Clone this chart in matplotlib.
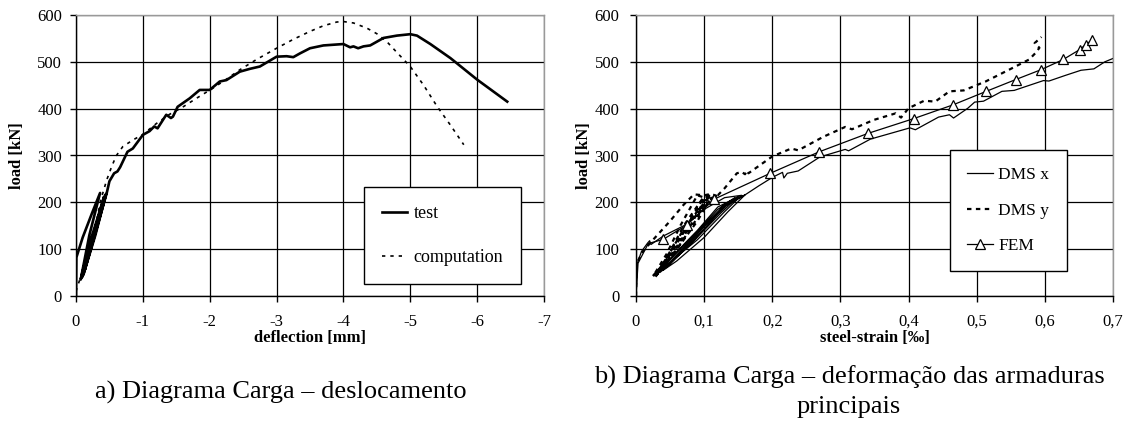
import matplotlib.pyplot as plt
from matplotlib.lines import Line2D

plt.rcParams['font.family'] = ['Liberation Serif', 'DejaVu Serif']

# --- a) load - deflection ---
test_defl = [0, -0.005, -0.1, -0.24, -0.36,
             -0.2, -0.07, -0.2, -0.42, -0.25, -0.09, -0.22, -0.44,
             -0.27, -0.11, -0.24, -0.45, -0.29, -0.13, -0.26, -0.46,
             -0.5, -0.57, -0.62, -0.66, -0.77, -0.85, -1.0, -1.1, -1.17, -1.22,
             -1.35, -1.42, -1.45, -1.52, -1.6, -1.7, -1.85, -2.0, -2.15, -2.25,
             -2.45, -2.6, -2.75, -3.0, -3.15, -3.25, -3.35, -3.5, -3.7, -4.0,
             -4.1, -4.15, -4.22, -4.3, -4.4, -4.5, -4.6, -4.8, -5.0, -5.1,
             -5.3, -5.6, -6.0, -6.45]
test_load = [0, 82, 125, 177, 220,
             130, 35, 110, 212, 125, 40, 115, 215,
             128, 45, 118, 218, 130, 55, 120, 220,
             245, 262, 266, 275, 308, 315, 344, 352, 362, 358,
             387, 380, 383, 404, 412, 422, 440, 440, 458, 461,
             479, 485, 490, 511, 512, 510, 518, 529, 535, 538,
             531, 533, 529, 533, 535, 543, 551, 556, 559, 556,
             538, 508, 462, 415]

comp_defl = [0, -0.02, -0.12, -0.22, -0.3, -0.37, -0.46, -0.53, -0.6, -0.7,
             -0.85, -1.0, -1.2, -1.4, -1.57, -1.8, -2.05, -2.25, -2.45, -2.7,
             -3.0, -3.25, -3.5, -3.7, -3.9, -4.0, -4.15, -4.35, -4.5, -4.65,
             -4.8, -5.0, -5.2, -5.4, -5.6, -5.8]
comp_load = [10, 20, 60, 105, 155, 205, 248, 275, 299, 319,
             333, 345, 368, 388, 401, 422, 444, 463, 483, 505,
             529, 548, 565, 577, 585, 586, 583, 572, 560, 543,
             520, 490, 450, 405, 365, 323]

# --- b) load - steel strain ---
dmsx_strain = [0, 0.001, 0.002, 0.008, 0.017, 0.02, 0.022, 0.04, 0.07, 0.1, 0.13, 0.155,
               0.13, 0.09, 0.05, 0.025, 0.05, 0.09, 0.12, 0.15,
               0.125, 0.085, 0.05, 0.03, 0.055, 0.095, 0.12, 0.145,
               0.12, 0.08, 0.05, 0.035, 0.06, 0.1, 0.13, 0.16,
               0.135, 0.1, 0.06, 0.04, 0.065, 0.1, 0.13, 0.158,
               0.18, 0.201, 0.215, 0.217, 0.222, 0.238, 0.27, 0.307, 0.312,
               0.344, 0.402, 0.41, 0.444, 0.46, 0.466, 0.487, 0.497, 0.51, 0.537,
               0.555, 0.598, 0.606, 0.63, 0.653, 0.672, 0.688, 0.708]
dmsx_load = [0, 40, 70, 95, 113, 118, 110, 128, 150, 185, 210, 215,
             180, 120, 72, 45, 80, 140, 190, 212,
             178, 118, 70, 48, 85, 145, 185, 210,
             175, 112, 68, 50, 88, 150, 195, 216,
             180, 125, 75, 55, 92, 148, 192, 214,
             235, 254, 264, 252, 262, 267, 297, 313, 310,
             335, 359, 355, 382, 387, 380, 401, 414, 416, 437,
             439, 460, 459, 471, 482, 485, 500, 512]

dmsy_strain = [0, 0.001, 0.01, 0.025, 0.05, 0.07, 0.085, 0.1, 0.11, 0.12,
               0.1, 0.08, 0.055, 0.025, 0.045, 0.065, 0.09,
               0.105, 0.085, 0.06, 0.03, 0.05, 0.07, 0.1,
               0.11, 0.09, 0.06, 0.028, 0.048, 0.072, 0.11,
               0.095, 0.075, 0.05, 0.035, 0.055, 0.08, 0.115,
               0.12, 0.13, 0.148, 0.155, 0.16, 0.163, 0.165, 0.2,
               0.228, 0.238, 0.275, 0.307, 0.317, 0.349, 0.381, 0.389, 0.4,
               0.423, 0.439, 0.46, 0.481, 0.513, 0.55, 0.577, 0.587, 0.592,
               0.585, 0.595]
dmsy_load = [0, 70, 95, 120, 160, 195, 217, 215, 218, 213,
             205, 150, 95, 42, 90, 150, 215,
             208, 155, 100, 45, 95, 150, 213,
             210, 160, 100, 40, 88, 148, 217,
             200, 150, 90, 55, 100, 160, 212,
             215, 230, 262, 265, 260, 268, 262, 298,
             315, 311, 340, 361, 356, 376, 390, 381, 401,
             417, 415, 437, 439, 458, 485, 505, 520, 530,
             540, 553]

fem_strain = [0, 0.003, 0.018, 0.04, 0.075, 0.115, 0.197, 0.269, 0.34, 0.408,
              0.465, 0.514, 0.557, 0.594, 0.627, 0.651, 0.66, 0.669]
fem_load = [0, 70, 112, 121, 152, 207, 262, 308, 347, 379,
            408, 437, 462, 483, 505, 526, 537, 546]
fem_mark_strain = fem_strain[3:]
fem_mark_load = fem_load[3:]

defl_ticks = [0, -1, -2, -3, -4, -5, -6, -7]
strain_ticks = [0, 0.1, 0.2, 0.3, 0.4, 0.5, 0.6, 0.7]
strain_labels = ['0', '0,1', '0,2', '0,3', '0,4', '0,5', '0,6', '0,7']
load_ticks = [0, 100, 200, 300, 400, 500, 600]

fig = plt.figure(figsize=(11.26, 4.23), dpi=100)
ax1 = fig.add_axes([76 / 1126, 1 - 296 / 423, 468 / 1126, 281 / 423])
ax2 = fig.add_axes([636 / 1126, 1 - 296 / 423, 477 / 1126, 281 / 423])


def style_axes(ax):
    ax.set_ylim(0, 600)
    ax.set_yticks(load_ticks)
    ax.grid(True, color='black', linewidth=0.9)
    ax.set_axisbelow(True)
    for s in ['left', 'bottom']:
        ax.spines[s].set_color('black')
        ax.spines[s].set_linewidth(1.0)
    for s in ['top', 'right']:
        ax.spines[s].set_color('#999999')
        ax.spines[s].set_linewidth(1.0)
    ax.tick_params(direction='out', length=4, width=1, labelsize=12)
    ax.tick_params(axis='x', pad=9)
    ax.tick_params(axis='y', pad=6)
    ax.set_ylabel('load [kN]', fontsize=12, fontweight='bold')


style_axes(ax1)
ax1.plot(test_defl, test_load, color='black', linewidth=1.9, label='test')
ax1.plot(comp_defl, comp_load, color='black', linewidth=1.2,
         linestyle=(0, (2, 3)), label='computation')
ax1.set_xlim(0, -7)
ax1.set_xticks(defl_ticks)
ax1.set_xticklabels([str(t) for t in defl_ticks])
ax1.set_xlabel('deflection [mm]', fontsize=12, fontweight='bold', labelpad=0)
ax1.yaxis.set_label_coords(-0.108, 0.5)
leg1 = ax1.legend(loc='upper left', bbox_to_anchor=(0.615, 0.388),
                  fontsize=13, frameon=True, fancybox=False,
                  edgecolor='black', framealpha=1, labelspacing=1.5,
                  handlelength=1.4, handletextpad=0.35, borderpad=1.0,
                  borderaxespad=0)
leg1.get_frame().set_linewidth(1.0)

style_axes(ax2)
ax2.tick_params(axis='y', pad=8)
ax2.plot(dmsx_strain, dmsx_load, color='black', linewidth=0.9)
ax2.plot(dmsy_strain, dmsy_load, color='black', linewidth=1.6,
         linestyle=(0, (2, 2)))
ax2.plot(fem_strain, fem_load, color='black', linewidth=0.9)
ax2.plot(fem_mark_strain, fem_mark_load, linestyle='none', marker='^',
         markersize=7, markerfacecolor='white', markeredgecolor='black',
         markeredgewidth=0.9)
ax2.set_xlim(0, 0.7)
ax2.set_xticks(strain_ticks)
ax2.set_xticklabels(strain_labels)
ax2.set_xlabel('steel-strain [‰]', fontsize=12, fontweight='bold', labelpad=0)
ax2.yaxis.set_label_coords(-0.092, 0.5)
handles = [Line2D([], [], color='black', linewidth=0.9),
           Line2D([], [], color='black', linewidth=1.6, linestyle=(0, (2, 2))),
           Line2D([], [], color='black', linewidth=0.9, marker='^', markersize=7,
                  markerfacecolor='white', markeredgewidth=0.9)]
leg2 = ax2.legend(handles, ['DMS x', 'DMS y', 'FEM'], loc='upper left',
                  bbox_to_anchor=(0.658, 0.52),
                  fontsize=12.5, frameon=True, fancybox=False, edgecolor='black',
                  framealpha=1, labelspacing=1.1, handlelength=1.5,
                  handletextpad=0.3, borderpad=1.0, borderaxespad=0)
leg2.get_frame().set_linewidth(1.0)

fig.text(281 / 1126, 1 - 392 / 423, 'a) Diagrama Carga – deslocamento',
         ha='center', va='center', fontsize=19)
fig.text(849 / 1126, 1 - 377 / 423, 'b) Diagrama Carga – deformação das armaduras',
         ha='center', va='center', fontsize=19)
fig.text(849 / 1126, 1 - 407 / 423, 'principais',
         ha='center', va='center', fontsize=19)

fig.savefig('out.png', dpi=100)
